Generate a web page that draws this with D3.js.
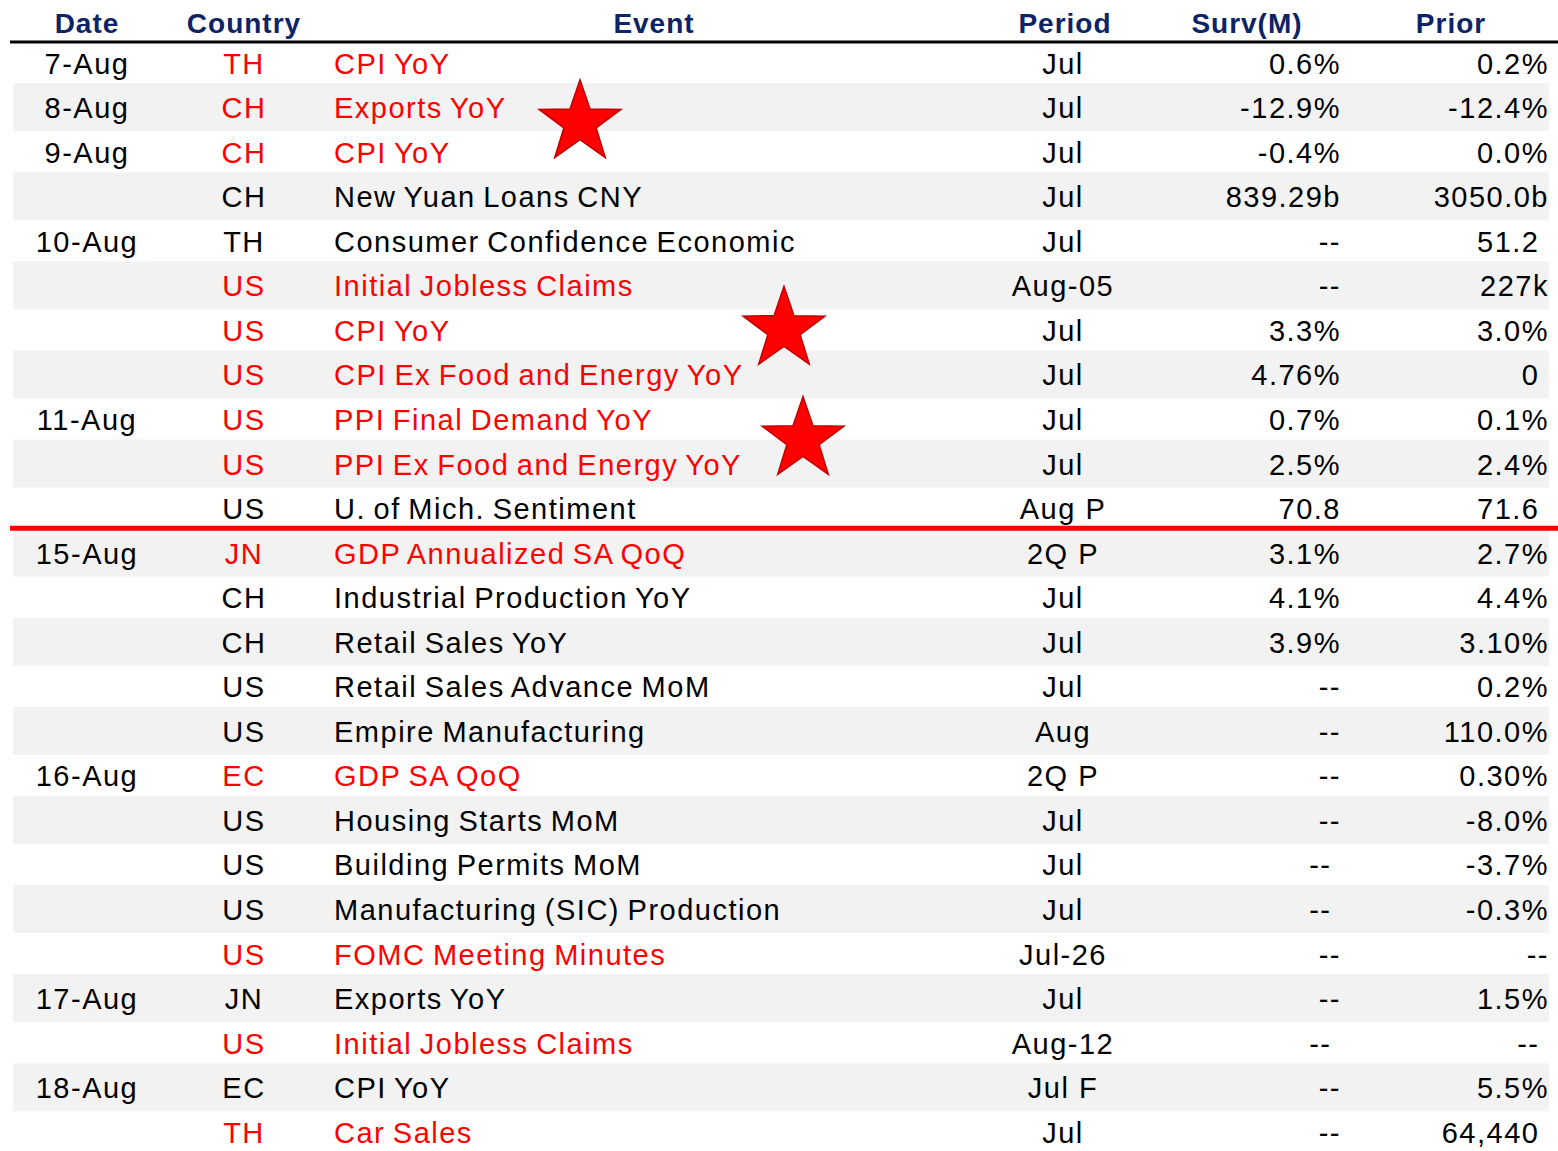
<!DOCTYPE html>
<html>
<head>
<meta charset="utf-8">
<script src="https://cdn.jsdelivr.net/npm/d3@7"></script>
<style>
  body { margin: 0; background: #fff; }
  svg text { font-family: "Liberation Sans", Arial, sans-serif; white-space: pre; }
</style>
</head>
<body>
<div id="chart"></div>
<script>
const headers = ["Date", "Country", "Event", "Period", "Surv(M)", "Prior"];

const dates = ["7-Aug", "8-Aug", "9-Aug", "", "10-Aug", "", "", "", "11-Aug", "", "",
  "15-Aug", "", "", "", "", "16-Aug", "", "", "", "", "17-Aug", "", "18-Aug", ""];

const countries = ["TH", "CH", "CH", "CH", "TH", "US", "US", "US", "US", "US", "US",
  "JN", "CH", "CH", "US", "US", "EC", "US", "US", "US", "US", "JN", "US", "EC", "TH"];

const events = [
  "CPI YoY", "Exports YoY", "CPI YoY", "New Yuan Loans CNY", "Consumer Confidence Economic",
  "Initial Jobless Claims", "CPI YoY", "CPI Ex Food and Energy YoY", "PPI Final Demand YoY",
  "PPI Ex Food and Energy YoY", "U. of Mich. Sentiment", "GDP Annualized SA QoQ",
  "Industrial Production YoY", "Retail Sales YoY", "Retail Sales Advance MoM",
  "Empire Manufacturing", "GDP SA QoQ", "Housing Starts MoM", "Building Permits MoM",
  "Manufacturing (SIC) Production", "FOMC Meeting Minutes", "Exports YoY",
  "Initial Jobless Claims", "CPI YoY", "Car Sales"];

const periods = ["Jul", "Jul", "Jul", "Jul", "Jul", "Aug-05", "Jul", "Jul", "Jul", "Jul", "Aug P",
  "2Q P", "Jul", "Jul", "Jul", "Aug", "2Q P", "Jul", "Jul", "Jul", "Jul-26", "Jul", "Aug-12", "Jul F", "Jul"];

const surveys = ["0.6%", "-12.9%", "-0.4%", "839.29b", "--", "--", "3.3%", "4.76%", "0.7%", "2.5%", "70.8",
  "3.1%", "4.1%", "3.9%", "--", "--", "--", "--", "-- ", "-- ", "--", "--", "-- ", "--", "--"];

const priors = ["0.2%", "-12.4%", "0.0%", "3050.0b", "51.2 ", "227k", "3.0%", "0 ", "0.1%", "2.4%", "71.6 ",
  "2.7%", "4.4%", "3.10%", "0.2%", "110.0%", "0.30%", "-8.0%", "-3.7%", "-0.3%", "--", "1.5%", "-- ", "5.5%", "64,440 "];

// 1 = key event shown in red
const highlight = [1, 1, 1, 0, 0, 1, 1, 1, 1, 1, 0, 1, 0, 0, 0, 0, 1, 0, 0, 0, 1, 0, 1, 0, 1];

// rows after which the week break is drawn
const weekBreaks = [10];

// star markers: row position (fractional) and x
const stars = [{ row: 1.35, x: 580 }, { row: 5.99, x: 784 }, { row: 8.46, x: 803 }];

const width = 1558, height = 1151;
const red = "#ff0000", navy = "#0c2466";

const rows = dates.map((d, i) => ({
  i, date: d, country: countries[i], event: events[i],
  period: periods[i], surv: surveys[i], prior: priors[i], hot: highlight[i] === 1
}));

const columns = [
  { key: "date", head: 87, x: 87, anchor: "middle", red: false },
  { key: "country", head: 244, x: 244, anchor: "middle", red: true },
  { key: "event", head: 654, x: 334, anchor: "start", red: true },
  { key: "period", head: 1065, x: 1063, anchor: "middle", red: false },
  { key: "surv", head: 1247, x: 1341, anchor: "end", red: false },
  { key: "prior", head: 1451, x: 1549, anchor: "end", red: false }
];

const svg = d3.select("#chart")
  .append("svg")
  .attr("width", width)
  .attr("height", height);

const y = d3.scaleBand()
  .domain(d3.range(rows.length))
  .range([40.3, 40.3 + rows.length * 44.55])
  .paddingInner(0);

const rowY = i => y(0) + (i + 0.5) * y.step();

// zebra bands
svg.selectAll("rect.band")
  .data(rows.filter(d => d.i % 2 === 1))
  .enter()
  .append("rect")
  .attr("class", "band")
  .attr("x", 13)
  .attr("y", d => rowY(d.i) - 24)
  .attr("width", 1536)
  .attr("height", 48)
  .attr("fill", "#f2f2f2");

// header
svg.selectAll("text.head")
  .data(columns)
  .enter()
  .append("text")
  .attr("class", "head")
  .attr("x", d => d.head)
  .attr("y", 33)
  .attr("text-anchor", "middle")
  .attr("font-size", 28)
  .attr("font-weight", "bold")
  .attr("letter-spacing", 1)
  .attr("fill", navy)
  .text((d, i) => headers[i]);

svg.append("line")
  .attr("x1", 10).attr("x2", width)
  .attr("y1", 42).attr("y2", 42)
  .attr("stroke", "#000")
  .attr("stroke-width", 3);

// cells
const rowG = svg.selectAll("g.row")
  .data(rows)
  .enter()
  .append("g")
  .attr("class", "row")
  .attr("transform", d => `translate(0,${rowY(d.i) + 11})`);

columns.forEach(col => {
  rowG.append("text")
    .attr("x", col.x)
    .attr("text-anchor", col.anchor)
    .attr("font-size", 29)
    .attr("letter-spacing", 1.5)
    .attr("word-spacing", col.key === "event" ? -2 : 0)
    .attr("fill", d => col.red && d.hot ? red : "#000")
    .text(d => d[col.key]);
});

// week break line
svg.selectAll("line.break")
  .data(weekBreaks)
  .enter()
  .append("line")
  .attr("class", "break")
  .attr("x1", 10).attr("x2", width)
  .attr("y1", d => y(d) + y.step() - 2)
  .attr("y2", d => y(d) + y.step() - 2)
  .attr("stroke", red)
  .attr("stroke-width", 5);

// stars
const starPath = (R, r) => {
  const pts = d3.range(10).map(k => {
    const a = -Math.PI / 2 + k * Math.PI / 5;
    const rad = k % 2 === 0 ? R : r;
    return [rad * Math.cos(a), rad * Math.sin(a)];
  });
  return d3.line()(pts) + "Z";
};

svg.selectAll("path.star")
  .data(stars)
  .enter()
  .append("path")
  .attr("class", "star")
  .attr("d", starPath(43, 17))
  .attr("transform", d => `translate(${d.x},${rowY(d.row)})`)
  .attr("fill", red)
  .attr("stroke", "#c00000")
  .attr("stroke-width", 1.5)
  .attr("stroke-linejoin", "miter");
</script>
</body>
</html>
